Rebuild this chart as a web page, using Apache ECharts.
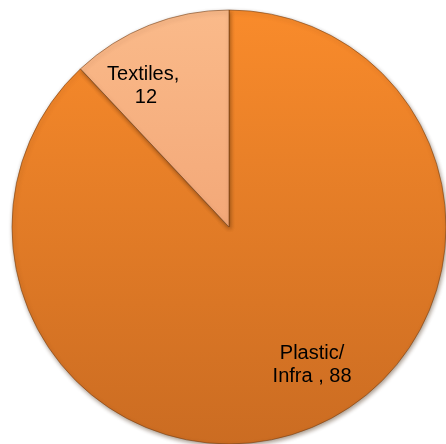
<!DOCTYPE html>
<html>
<head>
<meta charset="utf-8">
<script src="https://cdn.jsdelivr.net/npm/echarts@6/dist/echarts.min.js"></script>
<style>
  html, body { margin: 0; padding: 0; background: #ffffff; }
  #chart { width: 446px; height: 444px; }
</style>
</head>
<body>
<div id="chart"></div>
<script>
// Share of waste by sector
const categories = ['Plastic/\nInfra ', 'Textiles'];
const values = [88, 12];

// Slice fills (lighter top stop and darker bottom stop of the gradient)
const sliceFills = [
  { light: '#F98B2B', dark: '#CB6C22' },
  { light: '#FABA8A', dark: '#F3A878' }
];
// Label nudges from the default inside position
const labelNudges = [[42, 34], [-42, -37]];

const chart = echarts.init(document.getElementById('chart'), null, { renderer: 'canvas' });

const data = categories.map((name, i) => ({
  name: name,
  value: values[i],
  itemStyle: {
    color: {
      type: 'linear', x: 0, y: 0, x2: 0, y2: 1,
      colorStops: [
        { offset: 0, color: sliceFills[i].light },
        { offset: 1, color: sliceFills[i].dark }
      ]
    }
  },
  label: { offset: labelNudges[i] }
}));

chart.setOption({
  animation: false,
  backgroundColor: '#ffffff',
  series: [{
    type: 'pie',
    center: [229, 227],
    radius: [0, 217],
    startAngle: 90,
    clockwise: true,
    data: data,
    itemStyle: {
      borderColor: 'rgba(110, 60, 20, 0.55)',
      borderWidth: 1,
      shadowBlur: 4,
      shadowOffsetX: 1,
      shadowOffsetY: 2,
      shadowColor: 'rgba(60, 30, 0, 0.45)'
    },
    label: {
      show: true,
      position: 'inside',
      formatter: p => p.name + ', ' + p.value,
      width: 95,
      overflow: 'break',
      fontFamily: 'Liberation Sans, Arial, sans-serif',
      fontSize: 20,
      lineHeight: 23,
      color: '#000000',
      align: 'center'
    },
    labelLine: { show: false },
    emphasis: { disabled: true }
  }]
});
</script>
</body>
</html>
